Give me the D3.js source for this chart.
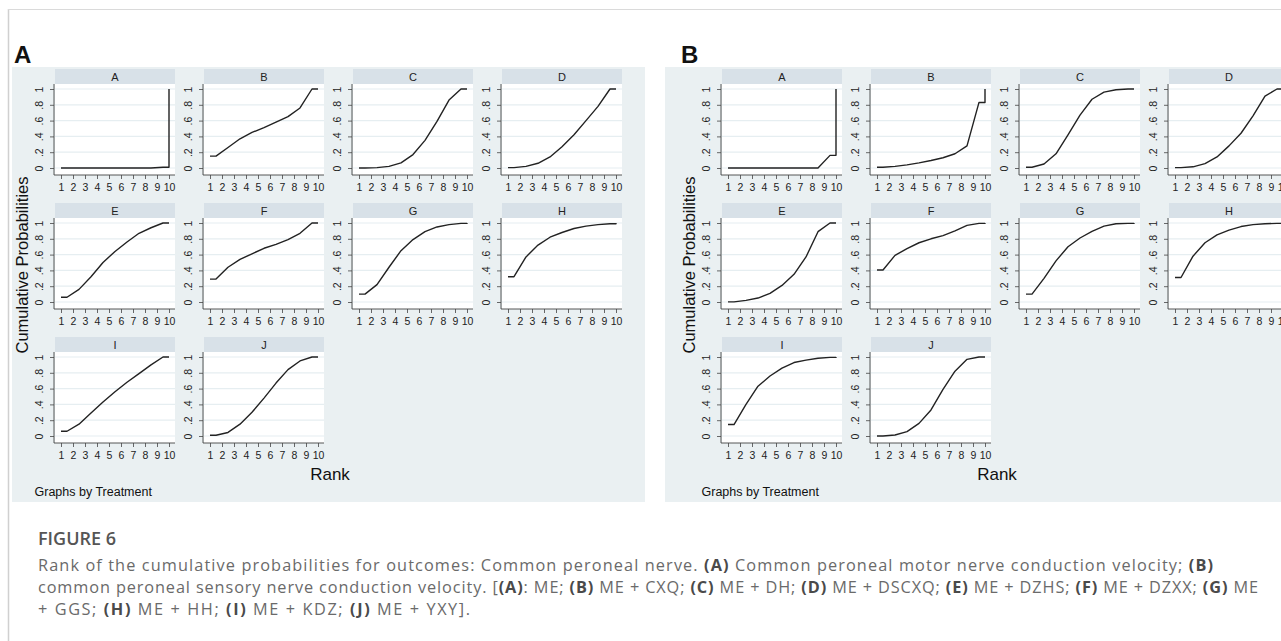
<!DOCTYPE html>
<html>
<head>
<meta charset="utf-8">
<script src="https://cdn.jsdelivr.net/npm/d3@7"></script>
<style>
body { margin: 0; background: #fff; }
</style>
</head>
<body>
<div id="fig"></div>
<script>
// treatments shown in each small panel, ranks on the x axis
var treatments = ["A", "B", "C", "D", "E", "F", "G", "H", "I", "J"];
var ranks = [1, 2, 3, 4, 5, 6, 7, 8, 9, 10];
var yTicks = [0, 0.2, 0.4, 0.6, 0.8, 1];
var yTickLabels = ["0", ".2", ".4", ".6", ".8", "1"];
var figureLetters = ["A", "B"];

// cumulative probability of being ranked <= k
// (A) common peroneal motor nerve conduction velocity
var motorCum = [
    [0, 0, 0, 0, 0, 0, 0, 0, 0.01, 1],
    [0.15, 0.26, 0.37, 0.45, 0.51, 0.58, 0.65, 0.76, 1, 1],
    [0, 0.005, 0.02, 0.065, 0.17, 0.35, 0.59, 0.86, 1, 1],
    [0.005, 0.02, 0.06, 0.14, 0.27, 0.42, 0.6, 0.78, 1, 1],
    [0.06, 0.16, 0.32, 0.5, 0.64, 0.76, 0.87, 0.94, 1, 1],
    [0.29, 0.44, 0.54, 0.61, 0.68, 0.73, 0.79, 0.87, 1, 1],
    [0.1, 0.22, 0.44, 0.65, 0.79, 0.89, 0.95, 0.98, 0.995, 1],
    [0.32, 0.57, 0.72, 0.82, 0.88, 0.93, 0.96, 0.98, 0.99, 1],
    [0.06, 0.15, 0.29, 0.43, 0.56, 0.68, 0.79, 0.9, 1, 1],
    [0.01, 0.045, 0.15, 0.3, 0.48, 0.67, 0.84, 0.95, 1, 1]
];
// (B) common peroneal sensory nerve conduction velocity
var sensoryCum = [
    [0, 0, 0, 0, 0, 0, 0, 0, 0.16, 1],
    [0.01, 0.02, 0.04, 0.065, 0.095, 0.13, 0.18, 0.28, 0.83, 1],
    [0.01, 0.05, 0.18, 0.42, 0.67, 0.87, 0.96, 0.99, 1, 1],
    [0.005, 0.015, 0.055, 0.14, 0.28, 0.44, 0.66, 0.91, 1, 1],
    [0.002, 0.02, 0.05, 0.11, 0.21, 0.35, 0.57, 0.89, 1, 1],
    [0.405, 0.59, 0.675, 0.75, 0.8, 0.84, 0.9, 0.97, 0.995, 1],
    [0.1, 0.3, 0.52, 0.7, 0.81, 0.895, 0.96, 0.99, 0.995, 1],
    [0.31, 0.58, 0.75, 0.85, 0.91, 0.955, 0.98, 0.99, 0.995, 1],
    [0.145, 0.4, 0.63, 0.76, 0.86, 0.93, 0.96, 0.985, 0.995, 1],
    [0, 0.013, 0.055, 0.16, 0.33, 0.59, 0.82, 0.97, 1, 1]
];

var captionTitle = "FIGURE 6";
// caption lines, [text, bold] pieces
var captionLines = [
    [["Rank of the cumulative probabilities for outcomes: Common peroneal nerve. ", false], ["(A)", true],
     [" Common peroneal motor nerve conduction velocity; ", false], ["(B)", true]],
    [["common peroneal sensory nerve conduction velocity. [", false], ["(A)", true], [": ME; ", false],
     ["(B)", true], [" ME + CXQ; ", false], ["(C)", true], [" ME + DH; ", false], ["(D)", true],
     [" ME + DSCXQ; ", false], ["(E)", true], [" ME + DZHS; ", false], ["(F)", true],
     [" ME + DZXX; ", false], ["(G)", true], [" ME", false]],
    [["+ GGS; ", false], ["(H)", true], [" ME + HH; ", false], ["(I)", true], [" ME + KDZ; ", false],
     ["(J)", true], [" ME + YXY].", false]]
];
var captionWidths = [1175, 1220, 432];

var width = 1281, height = 641;
var stataFont = "Arial, 'Liberation Sans', sans-serif";

var svg = d3.select("#fig")
    .append("svg")
    .attr("width", width)
    .attr("height", height)
    .style("display", "block");

// article frame
svg.append("line").attr("x1", 8.5).attr("x2", 8.5).attr("y1", 9).attr("y2", height)
    .attr("stroke", "#d0d0d0").attr("stroke-width", 1.5);
svg.append("line").attr("x1", 8).attr("x2", width).attr("y1", 9.5).attr("y2", 9.5)
    .attr("stroke", "#dadada").attr("stroke-width", 1);

function drawFigure(offset, bgLeft, bgRight, values, letter) {
    var g = svg.append("g").attr("transform", "translate(" + offset + ",0)");

    svg.append("rect")
        .attr("x", bgLeft).attr("y", 67)
        .attr("width", bgRight - bgLeft).attr("height", 435)
        .attr("fill", "#eaf0f2")
        .lower();

    svg.append("text")
        .attr("x", offset + 14).attr("y", 63)
        .attr("font-family", stataFont)
        .attr("font-weight", "bold")
        .attr("font-size", 24)
        .attr("fill", "#111")
        .text(letter);

    treatments.forEach(function (t, i) {
        var r = Math.floor(i / 4), c = i % 4;
        var left = 55 + 149 * c;
        var stripTop = 69 + 134 * r;
        var top = stripTop + 15;
        var bottom = top + 91;

        var xscale = d3.scaleLinear().domain([1, 10]).range([left + 6, left + 114]);
        var yscale = d3.scaleLinear().domain([0, 1]).range([bottom - 7, top + 5]);

        // strip
        g.append("rect")
            .attr("x", left).attr("y", stripTop)
            .attr("width", 120).attr("height", 15)
            .attr("fill", "#d8e1e8");
        g.append("text")
            .attr("x", left + 60).attr("y", stripTop + 11.5)
            .attr("text-anchor", "middle")
            .attr("font-family", stataFont)
            .attr("font-size", 11)
            .attr("fill", "#222")
            .text(t);

        // plot region
        g.append("rect")
            .attr("x", left).attr("y", top)
            .attr("width", 120).attr("height", bottom - top)
            .attr("fill", "#fff");

        g.selectAll(null)
            .data(yTicks)
            .enter()
            .append("line")
            .attr("x1", left).attr("x2", left + 120)
            .attr("y1", function (d) { return yscale(d); })
            .attr("y2", function (d) { return yscale(d); })
            .attr("stroke", "#e6eef1")
            .attr("stroke-width", 1.2);

        // Y axis
        var yaxis = d3.axisLeft(yscale)
            .tickValues(yTicks)
            .tickFormat(function (d, k) { return yTickLabels[k]; })
            .tickSize(4);
        var ya = g.append("g")
            .attr("transform", "translate(" + (left - 1) + ",0)")
            .call(yaxis);
        ya.select(".domain").remove();
        ya.selectAll("line").attr("stroke", "#444").attr("stroke-width", 0.8);
        ya.selectAll("text")
            .attr("x", null).attr("dy", null)
            .attr("transform", "translate(-11,0)rotate(-90)")
            .style("text-anchor", "middle")
            .attr("font-family", stataFont)
            .attr("font-size", 10.5)
            .attr("fill", "#222");
        g.append("line")
            .attr("x1", left - 1).attr("x2", left - 1)
            .attr("y1", top).attr("y2", bottom)
            .attr("stroke", "#444").attr("stroke-width", 0.9);

        // X axis
        var xaxis = d3.axisBottom(xscale)
            .tickValues(ranks)
            .tickSize(4)
            .tickPadding(4.5);
        var xa = g.append("g")
            .attr("transform", "translate(0," + bottom + ")")
            .call(xaxis);
        xa.select(".domain").remove();
        xa.selectAll("line").attr("stroke", "#444").attr("stroke-width", 0.8);
        xa.selectAll("text")
            .attr("font-family", stataFont)
            .attr("font-size", 10.5)
            .attr("fill", "#222");
        g.append("line")
            .attr("x1", left - 1).attr("x2", left + 120)
            .attr("y1", bottom).attr("y2", bottom)
            .attr("stroke", "#444").attr("stroke-width", 0.9);

        // cumulative curve: flat ends, interior values at rank midpoints
        var v = values[i];
        var pts = [[1, v[0]], [1.5, v[0]]];
        for (var k = 1; k < 9; k++) pts.push([ranks[k] + 0.5, v[k]]);
        pts.push([10, v[8]]);
        pts.push([10, v[9]]);

        var line = d3.line()
            .x(function (d) { return xscale(d[0]); })
            .y(function (d) { return yscale(d[1]); });
        g.append("path")
            .datum(pts)
            .attr("d", line)
            .attr("fill", "none")
            .attr("stroke", "#222")
            .attr("stroke-width", 1.4)
            .attr("stroke-linejoin", "round");
    });

    g.append("text")
        .attr("transform", "translate(28,265)rotate(-90)")
        .attr("text-anchor", "middle")
        .attr("font-family", stataFont)
        .attr("font-size", 16.5)
        .attr("fill", "#111")
        .text("Cumulative Probabilities");

    g.append("text")
        .attr("x", 330).attr("y", 480)
        .attr("text-anchor", "middle")
        .attr("font-family", stataFont)
        .attr("font-size", 17)
        .attr("fill", "#111")
        .text("Rank");

    g.append("text")
        .attr("x", 34.5).attr("y", 496)
        .attr("font-family", stataFont)
        .attr("font-size", 12.5)
        .attr("fill", "#111")
        .text("Graphs by Treatment");
}

drawFigure(0, 12, 645, motorCum, figureLetters[0]);
drawFigure(667, 665, width, sensoryCum, figureLetters[1]);

// caption
var capFont = "'Open Sans', Lato, sans-serif";
svg.append("text")
    .attr("x", 38).attr("y", 545)
    .attr("font-family", capFont)
    .attr("font-weight", 600)
    .attr("font-size", 18)
    .attr("fill", "#555")
    .text(captionTitle);

var lineY = [571, 593, 615];
captionLines.forEach(function (pieces, i) {
    var t = svg.append("text")
        .attr("x", 38).attr("y", lineY[i])
        .attr("font-family", capFont)
        .attr("font-size", 16.3)
        .attr("fill", "#6a6a6a")
        .attr("textLength", captionWidths[i])
        .attr("lengthAdjust", "spacing");
    pieces.forEach(function (p) {
        t.append("tspan")
            .attr("font-weight", p[1] ? 700 : 400)
            .attr("fill", p[1] ? "#4a4a4a" : "#6a6a6a")
            .text(p[0]);
    });
});
</script>
</body>
</html>
